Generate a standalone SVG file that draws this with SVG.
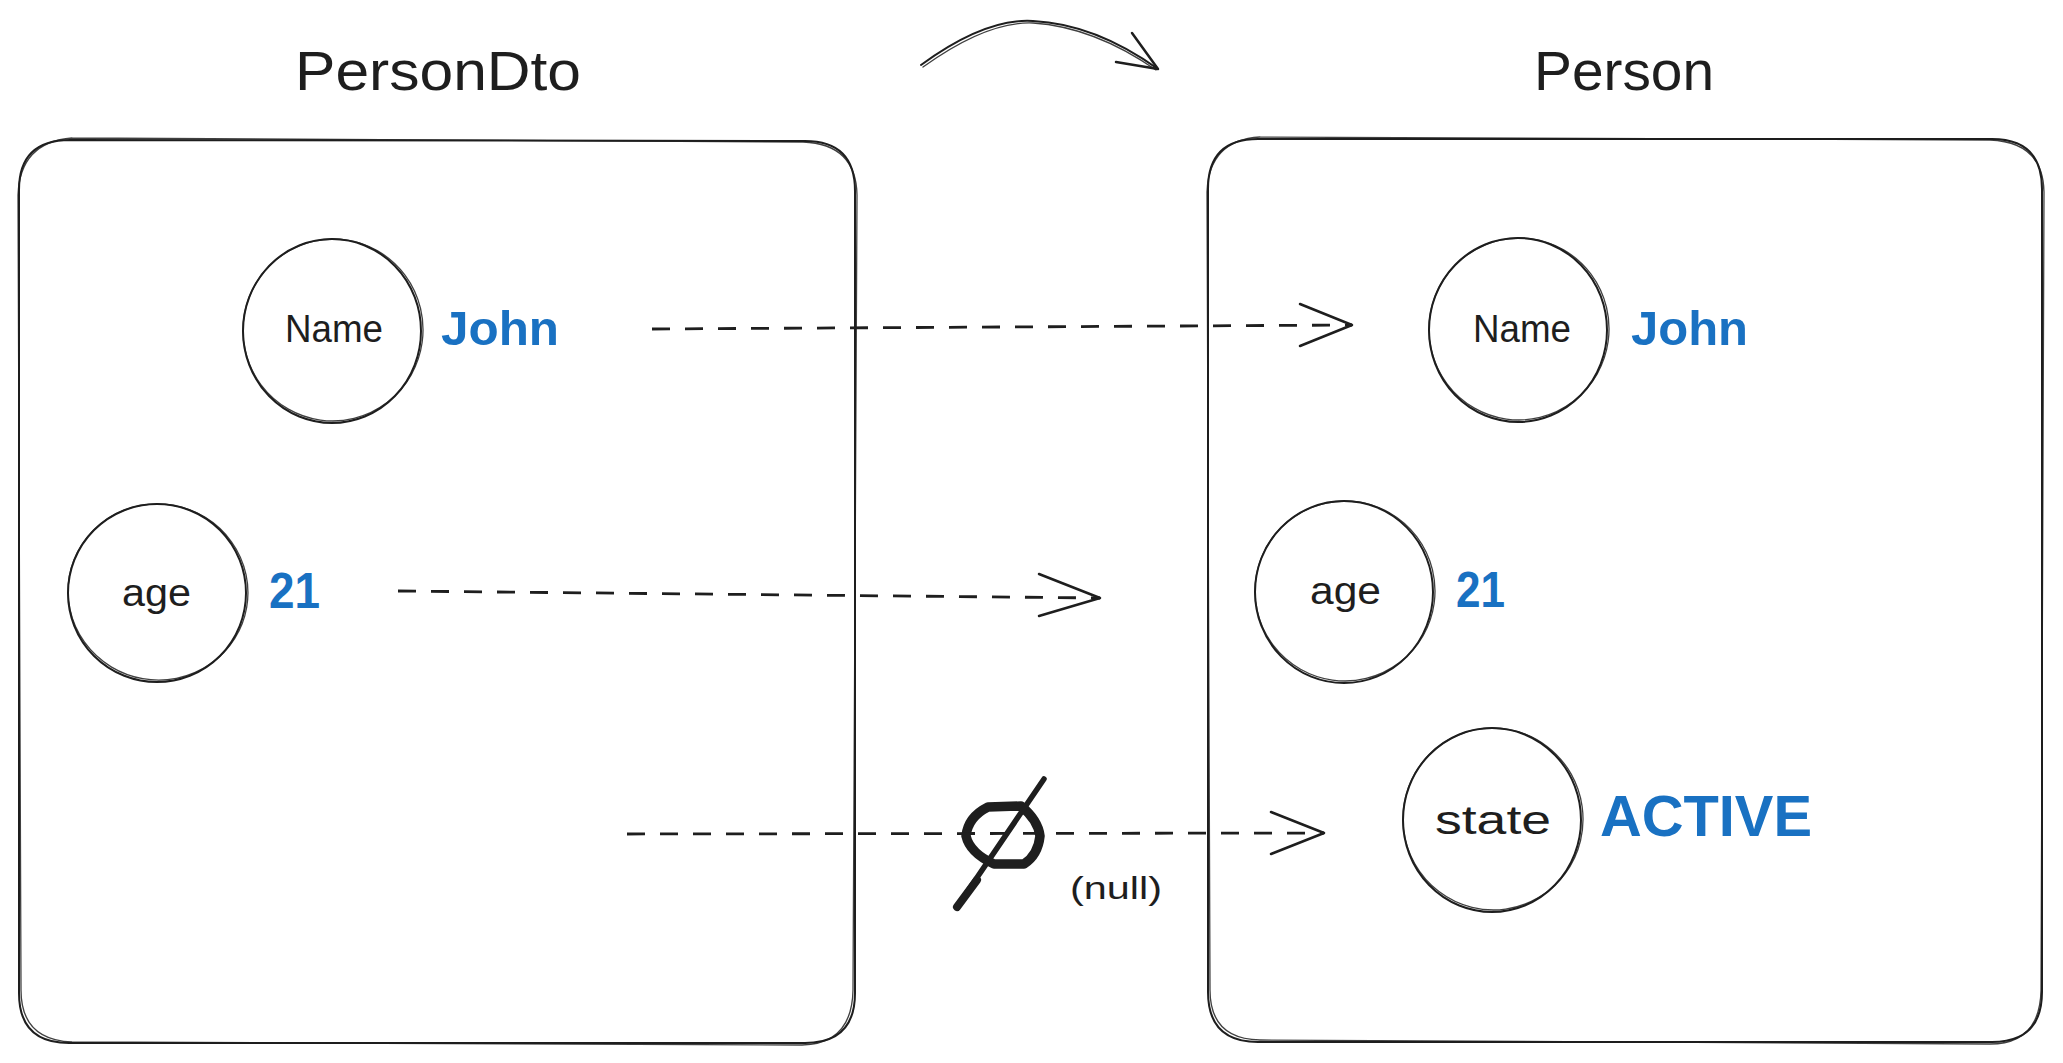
<svg xmlns="http://www.w3.org/2000/svg" width="2063" height="1063" viewBox="0 0 2063 1063">
<style>
.bg{fill:#ffffff}
.sk{fill:none;stroke:#1e1e1e;stroke-width:2;stroke-linecap:round;stroke-linejoin:round}
.sk2{fill:none;stroke:#1e1e1e;stroke-width:1.3;stroke-linecap:round;stroke-linejoin:round;opacity:0.85}
.dash{fill:none;stroke:#1e1e1e;stroke-width:2.8;stroke-dasharray:18 15}
.head{fill:none;stroke:#1e1e1e;stroke-width:2.5;stroke-linecap:round;stroke-linejoin:round}
.t{font-family:"Liberation Sans",Arial,sans-serif;fill:#1e1e1e}
.v{font-family:"Liberation Sans",Arial,sans-serif;fill:#1971c2;font-weight:bold}
</style>
<rect class="bg" x="0" y="0" width="2063" height="1063"/>

<g id="title-dto"><text class="t" x="295" y="90" font-size="56" textLength="286" lengthAdjust="spacingAndGlyphs">PersonDto</text></g>
<g id="title-person"><text class="t" x="1534" y="90" font-size="56" textLength="180" lengthAdjust="spacingAndGlyphs">Person</text></g>

<g id="box-persondto">
<path class="sk" d="M70,140 L805,141 Q855,141 855,191 L855,993 Q855,1043 805,1043 L69,1043 Q19,1043 19,993 L19,190 Q19,140 70,140 Z"/>
<path class="sk2" d="M72,138 L803,142 Q856,144 857,195 L853,990 Q852,1044 802,1045 L72,1042 Q21,1040 21,990 L18,195 Q20,142 72,138"/>
</g>
<g id="box-person">
<path class="sk" d="M1258,139 L1992,139 Q2042,139 2042,189 L2042,992 Q2042,1042 1992,1042 L1258,1042 Q1208,1042 1208,992 L1208,189 Q1208,139 1258,139 Z"/>
<path class="sk2" d="M1260,137 L1990,140 Q2043,142 2044,192 L2041,990 Q2040,1044 1990,1044 L1260,1040 Q1210,1039 1210,990 L1207,192 Q1209,140 1260,137"/>
</g>

<g id="node-name-dto">
<ellipse class="sk" cx="332" cy="331" rx="89" ry="92"/>
<ellipse class="sk2" cx="333" cy="330" rx="90" ry="91" transform="rotate(8 333 330)"/>
<text class="t" x="285" y="342" font-size="38" textLength="98" lengthAdjust="spacingAndGlyphs">Name</text>
<text class="v" x="441" y="345" font-size="48" textLength="118" lengthAdjust="spacingAndGlyphs">John</text>
</g>
<g id="node-age-dto">
<ellipse class="sk" cx="157" cy="593" rx="89" ry="89"/>
<ellipse class="sk2" cx="158" cy="592" rx="90" ry="88" transform="rotate(10 158 592)"/>
<text class="t" x="122" y="606" font-size="38" textLength="69" lengthAdjust="spacingAndGlyphs">age</text>
<text class="v" x="269" y="608" font-size="50" textLength="51" lengthAdjust="spacingAndGlyphs">21</text>
</g>

<g id="node-name-person">
<ellipse class="sk" cx="1518" cy="330" rx="89" ry="92"/>
<ellipse class="sk2" cx="1519" cy="329" rx="90" ry="91" transform="rotate(8 1519 329)"/>
<text class="t" x="1473" y="342" font-size="38" textLength="98" lengthAdjust="spacingAndGlyphs">Name</text>
<text class="v" x="1631" y="345" font-size="48" textLength="117" lengthAdjust="spacingAndGlyphs">John</text>
</g>
<g id="node-age-person">
<ellipse class="sk" cx="1344" cy="592" rx="89" ry="91"/>
<ellipse class="sk2" cx="1345" cy="591" rx="90" ry="90" transform="rotate(8 1345 591)"/>
<text class="t" x="1310" y="604" font-size="38" textLength="71" lengthAdjust="spacingAndGlyphs">age</text>
<text class="v" x="1456" y="607" font-size="50" textLength="49" lengthAdjust="spacingAndGlyphs">21</text>
</g>
<g id="node-state-person">
<ellipse class="sk" cx="1492" cy="820" rx="89" ry="92"/>
<ellipse class="sk2" cx="1493" cy="819" rx="90" ry="91" transform="rotate(-8 1493 819)"/>
<text class="t" x="1435" y="834" font-size="40" textLength="116" lengthAdjust="spacingAndGlyphs">state</text>
<text class="v" x="1600" y="836" font-size="57" textLength="212" lengthAdjust="spacingAndGlyphs">ACTIVE</text>
</g>

<g id="null-marker">
<path d="M988,807 L1021,806 Q1038,820 1040,836 Q1038,855 1024,864 L994,864 Q970,853 966,836 Q968,817 988,807 Z" fill="none" stroke="#1e1e1e" stroke-width="9.5" stroke-linejoin="round"/>
<path d="M1044,779 L957,907" fill="none" stroke="#1e1e1e" stroke-width="5.5" stroke-linecap="round"/>
<path d="M977,880 L957,907" fill="none" stroke="#1e1e1e" stroke-width="8" stroke-linecap="round"/>
<text class="t" x="1070" y="899" font-size="32" textLength="92" lengthAdjust="spacingAndGlyphs">(null)</text>
</g>

<g id="connectors">
<path class="sk" d="M921,65 Q985,18 1033,21 Q1095,24 1158,69"/>
<path class="sk2" d="M923,67 Q987,21 1033,23 Q1094,27 1156,70"/>
<path class="head" d="M1132,33 L1158,69 L1116,62"/>
<path class="dash" d="M652,329 L1352,325"/>
<path class="head" d="M1300,304 L1352,325 L1300,346"/>
<path class="dash" d="M398,591 L1100,598"/>
<path class="head" d="M1039,574 L1100,598 L1039,616"/>
<path class="dash" d="M627,834 L1324,833"/>
<path class="head" d="M1271,812 L1324,833 L1271,854"/>
</g>
</svg>
